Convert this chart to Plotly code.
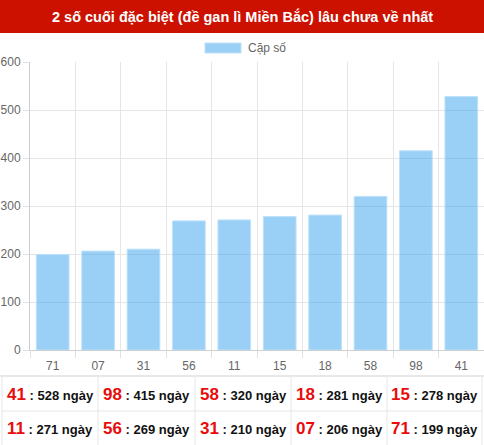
import plotly.graph_objects as go

# ---- data ----
categories = ["71", "07", "31", "56", "11", "15", "18", "58", "98", "41"]
values = [199, 206, 210, 269, 271, 278, 281, 320, 415, 528]
y_ticks = [0, 100, 200, 300, 400, 500, 600]
title_text = "2 số cuối đặc biệt (đề gan lì Miền Bắc) lâu chưa về nhất"
legend_text = "Cặp số"
unit_text = "ngày"

W, H = 484, 445
FONT = "Liberation Sans, Arial, sans-serif"


def fx(px):
    return px / W


def fy(py):
    return 1 - py / H


fig = go.Figure()
fig.add_trace(go.Bar(
    x=categories,
    y=values,
    name=legend_text,
    marker=dict(color="rgba(54,162,235,0.5)",
                line=dict(color="rgba(190,225,250,1)", width=1)),
    width=0.72,
    showlegend=False,
    hoverinfo="x+y",
))

shapes = []
annotations = []

# header
shapes.append(dict(type="rect", xref="paper", yref="paper",
                   x0=0, x1=1, y0=fy(33), y1=1,
                   fillcolor="#cc1100", line=dict(width=0), layer="below"))
annotations.append(dict(xref="paper", yref="paper", x=0.5, y=fy(16.5),
                        text="<b>" + title_text + "</b>", showarrow=False,
                        font=dict(family=FONT, size=14.5, color="white"),
                        xanchor="center", yanchor="middle"))

# legend
shapes.append(dict(type="rect", xref="paper", yref="paper",
                   x0=fx(205), x1=fx(241), y0=fy(53), y1=fy(43),
                   fillcolor="rgba(54,162,235,0.5)",
                   line=dict(color="rgba(190,225,250,1)", width=1)))
annotations.append(dict(xref="paper", yref="paper", x=fx(246), y=fy(48),
                        text=legend_text, showarrow=False,
                        font=dict(family=FONT, size=12, color="#666666"),
                        xanchor="left", yanchor="middle"))

# table below
line_col = "#e6e6e6"
shapes.append(dict(type="line", xref="paper", yref="paper",
                   x0=0, x1=1, y0=fy(376), y1=fy(376),
                   line=dict(color="#e8e8e8", width=2)))
shapes.append(dict(type="line", xref="paper", yref="paper",
                   x0=fx(2), x1=fx(482), y0=fy(411), y1=fy(411),
                   line=dict(color=line_col, width=1)))
col_edges = [2, 98, 195, 291, 387, 482]
for cx in col_edges:
    shapes.append(dict(type="line", xref="paper", yref="paper",
                       x0=fx(cx), x1=fx(cx), y0=fy(377), y1=0,
                       line=dict(color=line_col, width=1)))

order = sorted(range(len(values)), key=lambda i: -values[i])
row_centers = [394, 428]
for k, idx in enumerate(order):
    r, c = divmod(k, 5)
    cx = (col_edges[c] + col_edges[c + 1]) / 2
    txt = ("<b><span style='color:#e80c0c;font-size:17px'>%s</span> : %d %s</b>"
           % (categories[idx], values[idx], unit_text))
    annotations.append(dict(xref="paper", yref="paper", x=fx(cx), y=fy(row_centers[r]),
                            text=txt, showarrow=False,
                            font=dict(family=FONT, size=13, color="#111111"),
                            xanchor="center", yanchor="middle"))

fig.update_layout(
    width=W, height=H,
    margin=dict(l=0, r=0, t=0, b=0),
    paper_bgcolor="white",
    plot_bgcolor="white",
    font=dict(family=FONT, size=12, color="#666666"),
    bargap=0.28,
    shapes=shapes,
    annotations=annotations,
    xaxis=dict(
        domain=[fx(30), fx(484)],
        type="category",
        tickson="boundaries",
        showgrid=True, gridcolor="#e5e5e5", gridwidth=1,
        ticks="outside", ticklen=7, tickcolor="#e0e0e0",
        showline=True, linecolor="#d0d0d0", linewidth=1,
        tickfont=dict(family=FONT, size=12, color="#666666"),
        ticklabelstandoff=5,
        automargin=False,
        fixedrange=True,
    ),
    yaxis=dict(
        domain=[fy(350), fy(62)],
        range=[0, 600],
        tickvals=y_ticks,
        showgrid=True, gridcolor="#e5e5e5", gridwidth=1,
        zeroline=False,
        ticks="outside", ticklen=6, tickcolor="#e0e0e0",
        showline=True, linecolor="#cccccc", linewidth=1,
        tickfont=dict(family=FONT, size=12, color="#666666"),
        automargin=False,
        fixedrange=True,
    ),
)

fig.write_html(
    "out.html",
    config={"displayModeBar": False},
    post_script="document.body.style.margin='0';document.body.style.padding='0';"
                "document.body.style.overflow='hidden';",
)
